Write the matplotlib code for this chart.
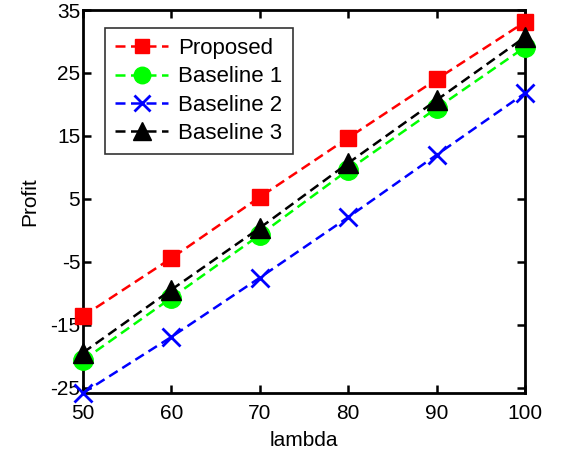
import matplotlib
matplotlib.use("Agg")
import matplotlib.pyplot as plt

lam = [50, 60, 70, 80, 90, 100]
proposed = [-13.6, -4.4, 5.3, 14.7, 24.0, 33.1]
baseline1 = [-20.6, -10.7, -0.7, 9.6, 19.4, 29.1]
baseline2 = [-25.8, -16.9, -7.5, 2.1, 12.0, 21.8]
baseline3 = [-19.4, -9.4, 0.4, 10.7, 20.7, 30.7]
yticks = [-25, -15, -5, 5, 15, 25, 35]
xticks = [50, 60, 70, 80, 90, 100]

plt.rcParams['font.family'] = ['Liberation Sans', 'DejaVu Sans']
plt.rcParams['axes.unicode_minus'] = False

fig = plt.figure(figsize=(5.61, 4.55), dpi=100)
ax = fig.add_axes([83/561, 1-393/455, (525-83)/561, (393-10)/455])

dash = (4, 2.2)
common = dict(dashes=dash, lw=1.8, clip_on=False, zorder=3)
ax.plot(lam, proposed, '--', color='#ff0000', marker='s', markersize=12, label='Proposed', **common)
ax.plot(lam, baseline1, '--', color='#00ff00', marker='o', markersize=14, label='Baseline 1', **common)
ax.plot(lam, baseline2, '--', color='#0000ff', marker='x', markersize=13, mew=2, label='Baseline 2', **common)
ax.plot(lam, baseline3, '--', color='#000000', marker='^', markersize=15, label='Baseline 3', **common)

ax.set_xlim(50, 100)
ax.set_ylim(-25.8, 35)
ax.set_xticks(xticks)
ax.set_yticks(yticks)
ax.tick_params(direction='in', top=True, right=True, length=6, width=1.8, labelsize=15)
ax.tick_params(axis='x', pad=8)
ax.tick_params(axis='y', pad=2)
for s in ax.spines.values():
    s.set_linewidth(2)
ax.set_xlabel('lambda', fontsize=15, labelpad=6)
ax.set_ylabel('Profit', fontsize=15, labelpad=8)

leg = ax.legend(loc='upper left', bbox_to_anchor=(22/442, 1-18/383), fontsize=16,
                frameon=True, fancybox=False, edgecolor='black', handlelength=2.4,
                borderpad=0.45, labelspacing=0.33, handletextpad=0.45, borderaxespad=0,
                markerscale=0.85)
leg.get_frame().set_linewidth(1.2)
leg.set_zorder(5)

fig.savefig('out.png', dpi=100)
